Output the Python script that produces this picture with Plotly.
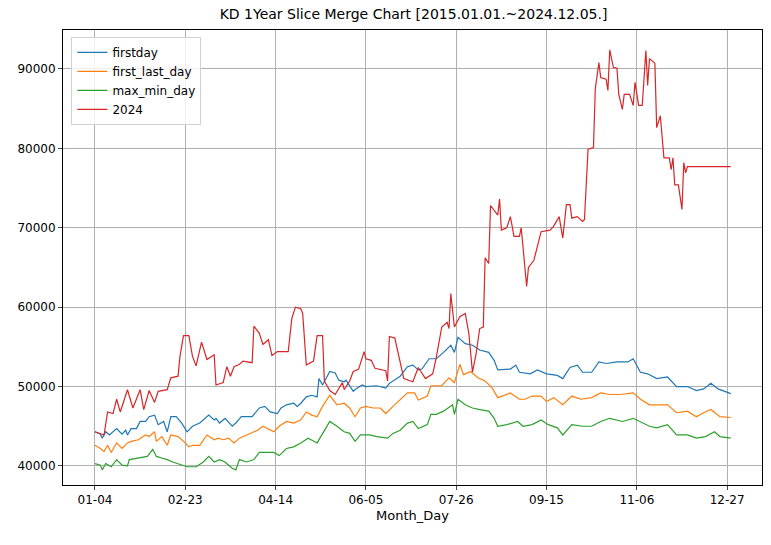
import plotly.graph_objects as go

tick_days = [0, 50, 100, 150, 200, 250, 300, 350]
tick_labels = ["01-04", "02-23", "04-14", "06-05", "07-26", "09-15", "11-06", "12-27"]

red_d = [0,5,7,10,12,14,18,21,25,27,30,33,35,40,42,46,47,49,52,54,56,59,62,66,67,71,73,75,77,80,82,87,88,91,93,96,98,101,107,109,111,114,115,117,121,123,126,127,130,133,137,138,141,143,146,149,150,153,155,161,162,163,166,169,171,176,179,183,187,189,192,195,196,197,199,202,205,207,209,211,213,215,216,218,219,223,224,225,228,230,232,235,236,239,240,243,247,252,254,257,259,261,263,264,267,270,271,273,276,277,279,280,283,284,285,287,289,290,292,293,296,298,299,301,303,305,306,307,310,311,313,315,318,319,320,321,323,325,326,327,328,352]
red_v = [44300,43900,46800,46600,48400,46800,49600,47300,49600,47100,49500,48000,49400,49600,51100,51300,53700,56400,56400,53800,52600,55600,53400,54000,50200,50500,52500,51300,52500,52800,53200,53000,57600,56700,55300,55900,53900,54400,54400,58600,60000,59800,59200,52700,53200,56400,56400,50700,49500,49000,50500,49600,50700,51900,52200,54400,53500,53300,52300,52000,50700,56300,56100,52900,51000,50600,52400,51000,51600,53700,57500,58100,57300,61700,57500,58800,59200,56700,51800,54100,57300,57500,66200,65500,72800,71600,73600,69700,70000,71400,68900,68900,70000,62600,65000,65900,69500,69700,70200,71400,68700,72900,72900,71200,71400,70800,71000,79900,80100,87500,90800,88900,88700,87300,92400,90200,90100,86800,84900,86800,86800,85400,88300,85400,85400,92300,87900,91300,90700,82600,84100,78800,78800,77300,78800,75400,75400,72300,78200,76900,77700,77700]

blue_d = [0,3,4,6,8,12,15,17,18,20,23,25,28,30,33,35,38,40,42,45,48,51,54,58,63,66,67,69,72,76,78,81,87,91,94,97,101,103,106,110,112,114,117,120,123,124,126,130,133,135,138,139,143,145,148,150,156,161,163,166,169,173,176,179,181,185,189,193,197,199,201,205,209,213,218,221,223,230,233,235,241,245,250,256,259,263,267,270,275,279,283,289,295,298,302,306,311,317,322,328,333,337,341,345,349,352]
blue_v = [44300,44000,43500,44300,43900,44700,44000,44500,43900,44700,44700,45600,45600,46200,46400,45200,45600,44300,46200,46200,45400,44300,45000,45400,46400,45800,46000,45400,46000,45000,45400,46200,46200,47300,47500,46800,46600,47300,47700,47900,47500,47900,48700,48900,48700,51000,50200,51900,51700,50800,50600,50800,49400,49800,50200,50000,50100,49800,50400,50800,51300,52500,52700,52100,52200,53500,53500,54300,55200,54300,56200,55400,55200,54600,54300,53300,52100,52200,52700,51800,51600,52100,51600,51400,51000,52400,52700,51800,51800,53100,52900,53100,53100,53500,51800,51600,51000,51200,50000,50000,49500,49700,50400,49700,49300,49100]

orange_d = [0,3,5,7,9,12,15,18,20,24,28,30,33,34,37,40,42,46,50,52,54,58,62,66,68,71,74,77,80,84,90,93,99,102,106,110,114,117,120,123,126,130,134,138,141,144,147,150,154,158,161,165,169,173,177,179,180,184,186,192,196,199,202,204,208,212,216,220,223,230,235,238,242,247,250,254,259,264,269,275,280,285,291,298,302,307,317,322,328,333,337,341,346,352]
orange_v = [42600,42200,41800,42600,41700,42900,42200,42900,43100,43300,43900,43700,44300,43100,43700,42600,43900,43700,42900,42400,42600,42600,43900,43300,43500,43300,43500,42900,43500,43900,44500,45000,44300,45000,45600,45400,45800,46800,46400,46200,47500,48900,47700,47900,47300,46200,47300,47500,47300,47300,46600,47500,48300,49200,49200,48300,48400,48800,50100,50100,51100,50500,52800,51500,51900,51100,50700,49800,48600,49200,48400,48400,48800,48800,48100,48600,47700,48800,48400,48600,49200,49000,49000,49200,48400,47700,47700,46700,46900,46200,46700,47100,46200,46100]

green_d = [0,3,4,6,9,12,15,18,19,24,29,32,34,37,40,43,51,56,60,63,66,69,72,76,78,80,84,88,91,99,102,106,110,114,118,123,126,130,134,138,141,144,147,152,156,162,165,169,173,176,179,184,186,189,193,198,199,201,205,209,213,218,221,223,228,234,237,242,247,251,256,259,264,270,275,280,285,292,298,302,307,311,317,322,328,333,338,343,346,352]
green_v = [40300,40100,39500,40300,39900,40800,40100,40000,40800,41000,41200,42100,41200,41000,40800,40500,39900,39900,40500,41200,40500,40800,40500,39700,39500,40800,40500,40800,41700,41700,41300,42200,42400,42900,43500,42900,44100,45600,45000,44300,44100,43100,43900,43900,43700,43500,44100,44500,45400,45600,44700,45200,46500,46500,46900,47700,46500,48400,47700,47300,47100,46900,46000,45000,45200,45600,45000,45200,45800,45200,44800,43900,45200,45000,45000,45600,46000,45600,46000,45600,45000,44800,45200,43900,43900,43500,43700,44300,43700,43500]

series = [
    ("firstday", blue_d, blue_v, "#1f77b4"),
    ("first_last_day", orange_d, orange_v, "#ff7f0e"),
    ("max_min_day", green_d, green_v, "#2ca02c"),
    ("2024", red_d, red_v, "#d62728"),
]

fig = go.Figure()
for name, d, v, c in series:
    fig.add_trace(go.Scatter(x=d, y=v, mode="lines", name=name,
                             line=dict(color=c, width=1.2)))

font = "DejaVu Sans"
fig.update_layout(
    width=771, height=545,
    margin=dict(l=55, r=17, t=22, b=68, autoexpand=False),
    paper_bgcolor="white", plot_bgcolor="white",
    font=dict(family=font, size=12, color="black"),
    title=dict(text="KD 1Year Slice Merge Chart [2015.01.01.~2024.12.05.]",
               x=0.526, xanchor="center", y=0.999, yanchor="top",
               pad=dict(t=1), font=dict(size=14)),
    showlegend=True,
    legend=dict(x=0.012, y=0.985, xanchor="left", yanchor="top",
                bordercolor="#d0d0d0", borderwidth=1, bgcolor="rgba(255,255,255,0.8)",
                font=dict(size=12), tracegroupgap=0),
    xaxis=dict(range=[-17.7, 369.3], tickvals=tick_days, ticktext=tick_labels,
               automargin=False,
               showgrid=True, gridcolor="#b0b0b0", gridwidth=1,
               showline=True, linecolor="black", mirror=True, ticks="outside",
               ticklen=4, zeroline=False,
               title=dict(text="Month_Day", standoff=4, font=dict(size=13))),
    yaxis=dict(range=[37600, 94900], tickvals=[40000,50000,60000,70000,80000,90000],
               tickformat="d", automargin=False,
               showgrid=True, gridcolor="#b0b0b0", gridwidth=1,
               showline=True, linecolor="black", mirror=True, ticks="outside",
               ticklen=4, zeroline=False),
)
fig.write_html("out.html")
